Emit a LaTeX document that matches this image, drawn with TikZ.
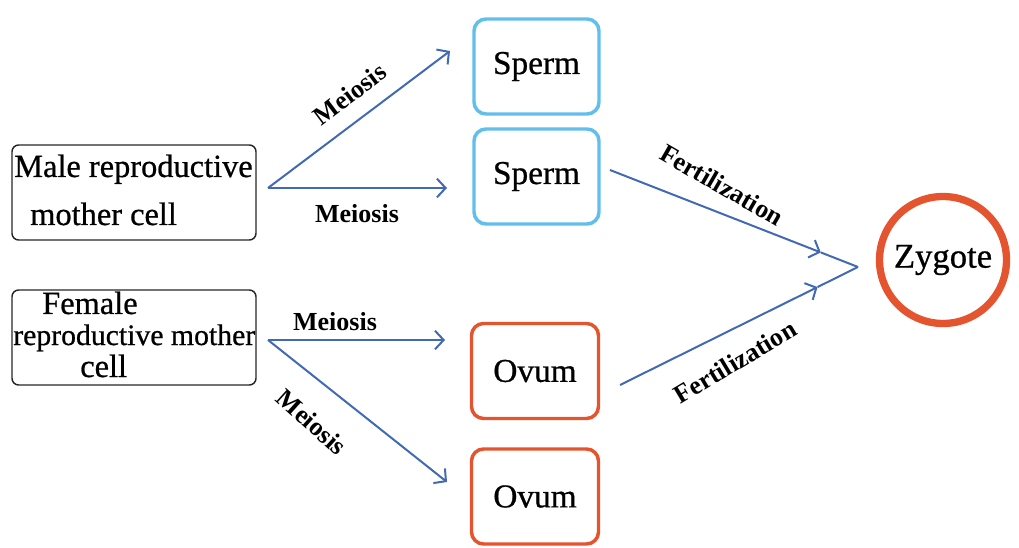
\documentclass[tikz,border=0pt]{standalone}
\usepackage{fontspec}
\setmainfont{Liberation Serif}
\newfontfamily\heavy{Liberation Serif}[FakeBold=0.7]
\usetikzlibrary{arrows.meta,calc}
\definecolor{arrblue}{RGB}{66,106,178}
\definecolor{skyb}{RGB}{98,190,235}
\definecolor{orred}{RGB}{228,84,46}
\tikzset{
  blackbox/.style={draw=black!85, line width=1.1pt, rounded corners=5pt, minimum width=244*0.75pt, minimum height=95*0.75pt, inner sep=0pt},
  spermbox/.style={draw=skyb, line width=2.6pt, rounded corners=9pt, minimum width=125*0.75pt, minimum height=95*0.75pt, font=\heavy\fontsize{25}{28}\selectfont},
  ovumbox/.style={draw=orred, line width=2.6pt, rounded corners=9pt, minimum width=127*0.75pt, minimum height=95*0.75pt, font=\heavy\fontsize{25}{28}\selectfont},
  zyg/.style={draw=orred, line width=5.5pt, circle, minimum size=127*0.75pt, font=\heavy\fontsize{26}{28}\selectfont},
  boxtxt/.style={font=\heavy\fontsize{24.3}{26}\selectfont, anchor=base west, inner sep=0pt},
  boxtxts/.style={font=\heavy\fontsize{22.3}{26}\selectfont, anchor=base west, inner sep=0pt},
  lab/.style={font=\fontsize{19.5}{22}\selectfont\bfseries, inner sep=0pt},
  arr/.style={draw=arrblue, line width=1.5pt, -{Straight Barb[length=6.5pt,width=14pt,line width=1.5pt]}},
  ln/.style={draw=arrblue, line width=1.5pt}
}
\begin{document}
\begin{tikzpicture}[x=0.75pt,y=-0.75pt]
\useasboundingbox (0,0) rectangle (1019,548);
% boxes
\node[blackbox] (male) at (134,192.5) {};
\node[boxtxt] (m1) at (14,177) {Male reproductive};
\node[boxtxt] (m2) at (30,225) {mother cell};
\node[blackbox] (female) at (134,337.5) {};
\node[boxtxt] (f1) at (42,314) {Female};
\node[boxtxts] (f2) at (13,345) {reproductive mother};
\node[boxtxt] (f3) at (80,377) {cell};
\node[spermbox] (s1) at (536.5,66.5) {Sperm};
\node[spermbox] (s2) at (536.5,176.5) {Sperm};
\node[ovumbox] (o1) at (535,371) {Ovum};
\node[ovumbox] (o2) at (535,496.5) {Ovum};
\node[zyg] (z) at (943,260) {Zygote};
% coordinates
\coordinate (mf) at (268,188);
\coordinate (mu) at (450,51);
\coordinate (ml) at (447,188);
\coordinate (ff) at (268,340);
\coordinate (fr) at (445,340);
\coordinate (fd) at (447,482);
\coordinate (su) at (610,170);
\coordinate (ol) at (620,385);
\coordinate (meet) at (858,267);
\coordinate (au) at ($(su)!0.85!(meet)$);
\coordinate (al) at ($(ol)!0.83!(meet)$);
% arrows
\draw[arr] (mf) -- (mu);
\draw[arr] (mf) -- (ml);
\draw[arr] (ff) -- (fr);
\draw[arr] (ff) -- (fd);
\draw[arr] (su) -- (au);
\draw[ln] (au) -- (meet);
\draw[arr] (ol) -- (al);
\draw[ln] (al) -- (meet);
% labels
\node[lab, rotate=37] (l1) at (350,94) {Meiosis};
\node[lab, anchor=base] (l2) at (357,223) {Meiosis};
\node[lab, anchor=base] (l3) at (335,330) {Meiosis};
\node[lab, rotate=-42] (l4) at (312,422) {Meiosis};
\node[lab, rotate=-30] (l5) at (722,185) {Fertilization};
\node[lab, rotate=31] (l6) at (735,362) {Fertilization};
\end{tikzpicture}
\end{document}
